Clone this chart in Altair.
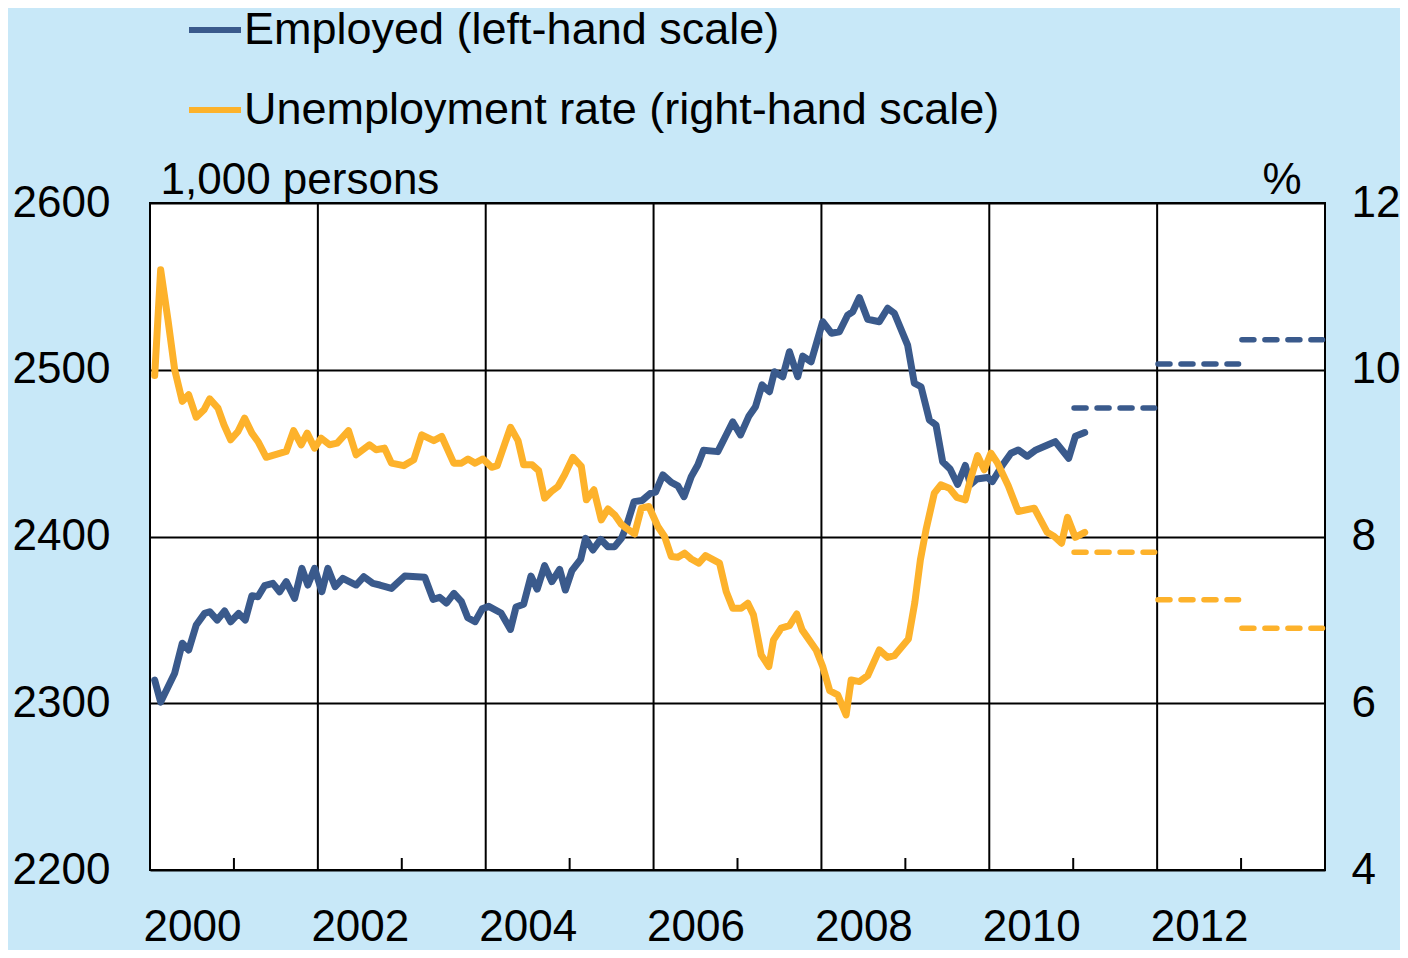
import altair as alt
import pandas as pd

# ---- data ----
emp_t = [2000.056, 2000.127, 2000.294, 2000.385, 2000.461, 2000.551, 2000.651, 2000.711, 2000.801, 2000.889,
         2000.961, 2001.056, 2001.135, 2001.214, 2001.286, 2001.365, 2001.464, 2001.544, 2001.623, 2001.723,
         2001.810, 2001.881, 2001.961, 2002.048, 2002.119, 2002.206, 2002.298, 2002.456, 2002.548, 2002.655,
         2002.738, 2002.877, 2003.036, 2003.274, 2003.373, 2003.452, 2003.532, 2003.621, 2003.711, 2003.786,
         2003.873, 2003.958, 2004.036, 2004.182, 2004.295, 2004.361, 2004.452, 2004.539, 2004.613, 2004.702,
         2004.789, 2004.881, 2004.949, 2005.027, 2005.131, 2005.190, 2005.277, 2005.369, 2005.456, 2005.536,
         2005.619, 2005.675, 2005.768, 2005.863, 2005.962, 2006.024, 2006.111, 2006.211, 2006.289, 2006.363,
         2006.449, 2006.527, 2006.595, 2006.765, 2006.865, 2006.944, 2007.036, 2007.137, 2007.214, 2007.292,
         2007.381, 2007.440, 2007.539, 2007.619, 2007.718, 2007.777, 2007.877, 2008.015, 2008.119, 2008.214,
         2008.313, 2008.373, 2008.452, 2008.551, 2008.690, 2008.789, 2008.869, 2009.027, 2009.107, 2009.187,
         2009.286, 2009.365, 2009.444, 2009.533, 2009.623, 2009.714, 2009.774, 2009.851, 2009.980, 2010.036,
         2010.158, 2010.258, 2010.345, 2010.452, 2010.556, 2010.694, 2010.786, 2010.946, 2011.026, 2011.137]
emp_v = [2313.9, 2300.7, 2318.0, 2336.0, 2331.9, 2346.9, 2353.9, 2354.9, 2349.9, 2355.3,
         2348.9, 2353.9, 2349.9, 2364.5, 2363.9, 2370.5, 2371.9, 2366.9, 2372.9, 2362.9,
         2380.9, 2370.9, 2380.9, 2366.9, 2380.9, 2369.9, 2374.9, 2370.9, 2375.9, 2371.9,
         2370.9, 2368.9, 2376.3, 2375.5, 2362.3, 2363.5, 2360.1, 2365.9, 2360.9, 2351.3,
         2348.9, 2356.6, 2358.1, 2354.1, 2344.3, 2357.7, 2359.4, 2376.3, 2368.4, 2382.5,
         2372.9, 2380.3, 2367.9, 2379.5, 2386.3, 2398.9, 2391.9, 2398.3, 2393.9, 2393.9,
         2399.1, 2405.9, 2420.9, 2421.6, 2425.9, 2426.6, 2436.9, 2432.4, 2430.4, 2423.9,
         2435.9, 2442.9, 2451.7, 2450.9, 2460.9, 2468.7, 2460.9, 2472.3, 2477.8, 2490.9,
         2486.8, 2498.8, 2495.8, 2510.8, 2495.8, 2508.2, 2504.8, 2528.8, 2521.9, 2522.8,
         2532.8, 2534.8, 2543.3, 2530.3, 2528.8, 2536.9, 2533.9, 2514.8, 2491.9, 2489.8,
         2469.9, 2466.9, 2444.9, 2440.5, 2431.2, 2442.6, 2431.2, 2434.5, 2435.4, 2432.9,
         2442.9, 2449.9, 2451.9, 2448.1, 2451.9, 2454.9, 2456.9, 2446.9, 2460.1, 2462.3]

unemp_t = [2000.056, 2000.127, 2000.214, 2000.294, 2000.385, 2000.461, 2000.551, 2000.643, 2000.711, 2000.810,
           2000.881, 2000.961, 2001.048, 2001.127, 2001.214, 2001.286, 2001.385, 2001.623, 2001.711, 2001.801,
           2001.873, 2001.961, 2002.039, 2002.139, 2002.230, 2002.365, 2002.456, 2002.615, 2002.694, 2002.794,
           2002.877, 2003.024, 2003.143, 2003.238, 2003.381, 2003.476, 2003.619, 2003.711, 2003.789, 2003.873,
           2003.968, 2004.071, 2004.137, 2004.295, 2004.385, 2004.452, 2004.554, 2004.631, 2004.702, 2004.782,
           2004.861, 2004.940, 2005.039, 2005.139, 2005.199, 2005.289, 2005.377, 2005.456, 2005.536, 2005.613,
           2005.675, 2005.774, 2005.854, 2005.944, 2006.051, 2006.131, 2006.211, 2006.289, 2006.369, 2006.449,
           2006.539, 2006.619, 2006.786, 2006.865, 2006.944, 2007.044, 2007.123, 2007.190, 2007.282, 2007.373,
           2007.429, 2007.520, 2007.619, 2007.706, 2007.770, 2007.937, 2008.015, 2008.099, 2008.194, 2008.294,
           2008.354, 2008.452, 2008.551, 2008.690, 2008.789, 2008.869, 2009.036, 2009.113, 2009.179, 2009.246,
           2009.345, 2009.423, 2009.524, 2009.613, 2009.714, 2009.774, 2009.861, 2009.940, 2010.020, 2010.099,
           2010.226, 2010.345, 2010.536, 2010.690, 2010.774, 2010.861, 2010.932, 2011.024, 2011.137]
unemp_v = [9.93, 11.20, 10.60, 10.00, 9.62, 9.70, 9.43, 9.52, 9.65, 9.54,
           9.34, 9.16, 9.26, 9.42, 9.24, 9.14, 8.95, 9.02, 9.27, 9.10,
           9.24, 9.06, 9.18, 9.10, 9.12, 9.27, 8.98, 9.10, 9.04, 9.06,
           8.88, 8.85, 8.92, 9.22, 9.15, 9.20, 8.88, 8.88, 8.93, 8.88,
           8.93, 8.83, 8.85, 9.31, 9.15, 8.86, 8.86, 8.79, 8.46, 8.54,
           8.60, 8.74, 8.95, 8.84, 8.44, 8.56, 8.20, 8.33, 8.26, 8.15,
           8.10, 8.03, 8.34, 8.36, 8.12, 8.00, 7.76, 7.75, 7.80, 7.73,
           7.68, 7.77, 7.68, 7.34, 7.14, 7.14, 7.20, 7.06, 6.58, 6.44,
           6.76, 6.90, 6.93, 7.07, 6.88, 6.64, 6.44, 6.15, 6.10, 5.86,
           6.28, 6.26, 6.33, 6.64, 6.55, 6.57, 6.77, 7.21, 7.72, 8.08,
           8.52, 8.62, 8.58, 8.47, 8.44, 8.68, 8.97, 8.80, 9.00, 8.88,
           8.61, 8.30, 8.34, 8.05, 8.00, 7.92, 8.23, 7.99, 8.05]

fc_years = [2011, 2012, 2013]
emp_fc = [2477.0, 2503.5, 2518.0]
unemp_fc = [7.81, 7.24, 6.90]

grid_years = [2002, 2004, 2006, 2008, 2010, 2012]
minor_years = [2001, 2003, 2005, 2007, 2009, 2011, 2013]
label_years = [2000, 2002, 2004, 2006, 2008, 2010, 2012]

series_names = ["Employed (left-hand scale)", "Unemployment rate (right-hand scale)"]
colors = ["#3a5a8c", "#fdb22b"]

# ---- tables ----
emp_df = pd.DataFrame({"t": emp_t, "v": emp_v, "series": series_names[0]})
unemp_df = pd.DataFrame({"t": unemp_t, "v": unemp_v, "series": series_names[1]})
emp_fc_df = pd.DataFrame({"start": [y + 0.01 for y in fc_years], "end": [y + 0.97 for y in fc_years], "v": emp_fc})
unemp_fc_df = pd.DataFrame({"start": [y + 0.01 for y in fc_years], "end": [y + 0.97 for y in fc_years], "v": unemp_fc})
grid_df = pd.DataFrame({"t": grid_years})
minor_df = pd.DataFrame({"t": minor_years})

FONT = "Liberation Sans"
FS = 44
W, H = 1175, 667
LW = 7

xscale = alt.Scale(domain=[2000, 2014], nice=False, zero=False)
xaxis = alt.Axis(values=[y + 0.5 for y in label_years], labelExpr="format(floor(datum.value), 'd')",
                 ticks=False, tickSize=0, grid=False, domain=False, labelFontSize=FS, labelFont=FONT,
                 labelColor="black", labelPadding=70, labelBaseline="alphabetic", labelFlush=False,
                 labelOverlap=False, title=None)


def X(field):
    return alt.X(f"{field}:Q", scale=xscale, axis=xaxis)


yl_scale = alt.Scale(domain=[2200, 2600], nice=False, zero=False)
yr_scale = alt.Scale(domain=[4, 12], nice=False, zero=False)

left_axis = alt.Axis(orient="left", values=[2200, 2300, 2400, 2500, 2600], format="d", grid=True,
                     gridColor="black", gridWidth=2, gridOpacity=1, ticks=False, domain=False,
                     labelFontSize=FS, labelFont=FONT, labelColor="black", labelPadding=40, labelFlush=False,
                     labelBaseline="middle", title="1,000 persons", titleAngle=0, titleAlign="left",
                     titleBaseline="alphabetic", titleX=10, titleY=-10, titleFontSize=FS, titleFont=FONT,
                     titleFontWeight="normal", titleColor="black")
right_axis = alt.Axis(orient="right", values=[4, 6, 8, 10, 12], format="d", grid=False, ticks=False,
                      domain=False, labelFontSize=FS, labelFont=FONT, labelColor="black", labelPadding=26,
                      labelFlush=False, labelBaseline="middle", title="%", titleAngle=0, titleAlign="right",
                      titleBaseline="alphabetic", titleX=-24, titleY=-10, titleFontSize=FS, titleFont=FONT,
                      titleFontWeight="normal", titleColor="black")

color_scale = alt.Scale(domain=series_names, range=colors)
legend = alt.Legend(orient="none", legendX=36, legendY=-202, direction="vertical", symbolType="stroke",
                    symbolSize=2704, symbolStrokeWidth=6, labelFontSize=45, labelFont=FONT, labelColor="black",
                    labelLimit=0, labelOffset=0, rowPadding=28, padding=0, title=None)

vgrid = alt.Chart(grid_df).mark_rule(color="black", strokeWidth=2).encode(x=X("t"))
minor = alt.Chart(minor_df).mark_rule(color="black", strokeWidth=2).encode(
    x=X("t"), y=alt.value(H - 12), y2=alt.value(H))

emp_line = alt.Chart(emp_df).mark_line(strokeWidth=LW, strokeJoin="round", strokeCap="round").encode(
    x=X("t"), y=alt.Y("v:Q", scale=yl_scale, axis=left_axis),
    color=alt.Color("series:N", scale=color_scale, legend=legend))
emp_fc_rule = alt.Chart(emp_fc_df).mark_rule(strokeWidth=5.5, strokeDash=[12, 11], strokeCap="round",
                                             color=colors[0]).encode(
    x=X("start"), x2="end", y=alt.Y("v:Q", scale=yl_scale, axis=left_axis))

unemp_line = alt.Chart(unemp_df).mark_line(strokeWidth=LW, strokeJoin="round", strokeCap="round").encode(
    x=X("t"), y=alt.Y("v:Q", scale=yr_scale, axis=right_axis),
    color=alt.Color("series:N", scale=color_scale, legend=legend))
unemp_fc_rule = alt.Chart(unemp_fc_df).mark_rule(strokeWidth=5.5, strokeDash=[12, 11], strokeCap="round",
                                                 color=colors[1]).encode(
    x=X("start"), x2="end", y=alt.Y("v:Q", scale=yr_scale, axis=right_axis))

chart = alt.layer(
    vgrid, minor,
    alt.layer(emp_line, emp_fc_rule),
    alt.layer(unemp_line, unemp_fc_rule),
).resolve_scale(y="independent").properties(
    width=W, height=H,
    autosize=alt.AutoSizeParams(type="none"),
    padding={"left": 142, "top": 195, "right": 75, "bottom": 80},
).configure(
    background="#c8e8f8", font=FONT,
).configure_view(
    fill="white", stroke="black", strokeWidth=2,
)

chart.save("out.html", embed_options={"renderer": "svg", "actions": False})
